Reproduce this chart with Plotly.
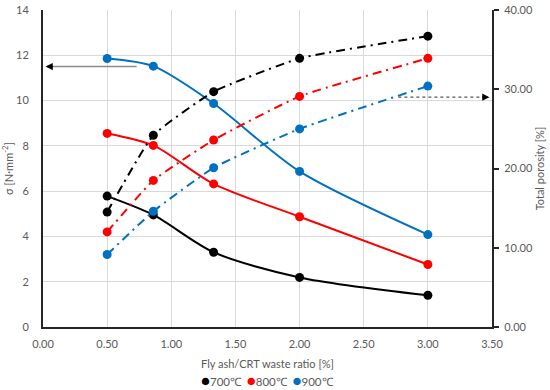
import plotly.graph_objects as go

ratio = [0.5, 0.86, 1.33, 2.0, 3.0]
series = ["700℃", "800℃", "900℃"]
colors = ["#000000", "#ff0000", "#0070c0"]
strength = {
    "700℃": [5.78, 4.95, 3.30, 2.19, 1.40],
    "800℃": [8.55, 8.02, 6.32, 4.87, 2.76],
    "900℃": [11.86, 11.52, 9.87, 6.87, 4.08],
}
porosity = {
    "700℃": [14.5, 24.2, 29.7, 33.9, 36.7],
    "800℃": [12.0, 18.5, 23.6, 29.1, 33.9],
    "900℃": [9.15, 14.6, 20.1, 25.0, 30.4],
}
x_ticks = [0.0, 0.5, 1.0, 1.5, 2.0, 2.5, 3.0, 3.5]
y_ticks = [0, 2, 4, 6, 8, 10, 12, 14]
y2_ticks = [0, 10, 20, 30, 40]

FONT = "Lato, 'Open Sans', sans-serif"
GRAY = "#595959"

fig = go.Figure()
for s, c in zip(series, colors):
    fig.add_trace(go.Scatter(
        x=ratio, y=strength[s], mode="lines+markers", name=s,
        line=dict(color=c, width=2, shape="spline", smoothing=0.8),
        marker=dict(color=c, size=9), showlegend=False, yaxis="y"))
    fig.add_trace(go.Scatter(
        x=ratio, y=porosity[s], mode="lines+markers", name=s,
        line=dict(color=c, width=2, shape="spline", smoothing=0.4, dash="9px,5px,2px,5px"),
        marker=dict(color=c, size=9), showlegend=False, yaxis="y2"))

# legend drawn as one line of text (markers tight against labels, as in the reference)
legend_text = "\u2002".join(
    f"<span style='color:{c};font-size:15px'>●</span>{s}" for s, c in zip(series, colors))
fig.add_annotation(xref="paper", yref="paper", x=0.5, y=-0.168, xanchor="center",
                   yanchor="middle", showarrow=False, text=legend_text,
                   font=dict(size=11.5, color=GRAY, family=FONT))

# arrows
fig.add_shape(type="line", xref="x", yref="y", x0=0.73, x1=0.06, y0=11.5, y1=11.5,
              line=dict(color="#8c8c8c", width=1.5))
fig.add_annotation(xref="x", yref="y", axref="x", ayref="y", x=0.02, y=11.5,
                   ax=0.09, ay=11.5, showarrow=True, arrowhead=2, arrowsize=1.2,
                   arrowwidth=1.2, arrowcolor="#000000", text="")
fig.add_shape(type="line", xref="x", yref="y2", x0=2.77, x1=3.42, y0=29.0, y1=29.0,
              line=dict(color="#555555", width=1.2, dash="dot"))
fig.add_annotation(xref="x", yref="y2", axref="x", ayref="y2", x=3.48, y=29.0,
                   ax=3.41, ay=29.0, showarrow=True, arrowhead=2, arrowsize=1.2,
                   arrowwidth=1.2, arrowcolor="#000000", text="")

fig.update_layout(
    width=550, height=390, showlegend=False,
    margin=dict(l=43, r=58, t=10, b=63, autoexpand=False),
    paper_bgcolor="white", plot_bgcolor="white",
    font=dict(family=FONT, size=11, color=GRAY),
    xaxis=dict(range=[0, 3.5], tickvals=x_ticks, ticktext=[f"{v:.2f}" for v in x_ticks],
               showgrid=True, gridcolor="#d9d9d9", gridwidth=1,
               showline=True, linecolor="#262626", linewidth=2, zeroline=False,
               ticks="", ticklabelstandoff=6,
               title=dict(text="Fly ash/CRT waste ratio [%]", standoff=11,
                          font=dict(size=11, color=GRAY))),
    yaxis=dict(range=[0, 14], tickvals=y_ticks, showgrid=True, gridcolor="#d9d9d9",
               showline=True, linecolor="#262626", linewidth=2, zeroline=False,
               ticks="", ticklabelstandoff=10,
               title=dict(text="σ [N·mm<sup>-2</sup>]", standoff=8,
                          font=dict(size=11, color=GRAY))),
    yaxis2=dict(range=[0, 40], tickvals=y2_ticks, ticktext=[f"{v:.2f}" for v in y2_ticks],
                overlaying="y", side="right", showgrid=False,
                showline=True, linecolor="#262626", linewidth=2, zeroline=False,
                ticks="outside", ticklen=5, tickcolor="#262626", tickwidth=1.5,
                ticklabelstandoff=3,
                title=dict(text="Total porosity [%]", standoff=0,
                           font=dict(size=11, color=GRAY))),
)

fig.write_html("out.html", config={"displayModeBar": False},
               post_script="document.body.style.margin='0';document.body.style.overflow='hidden';")
